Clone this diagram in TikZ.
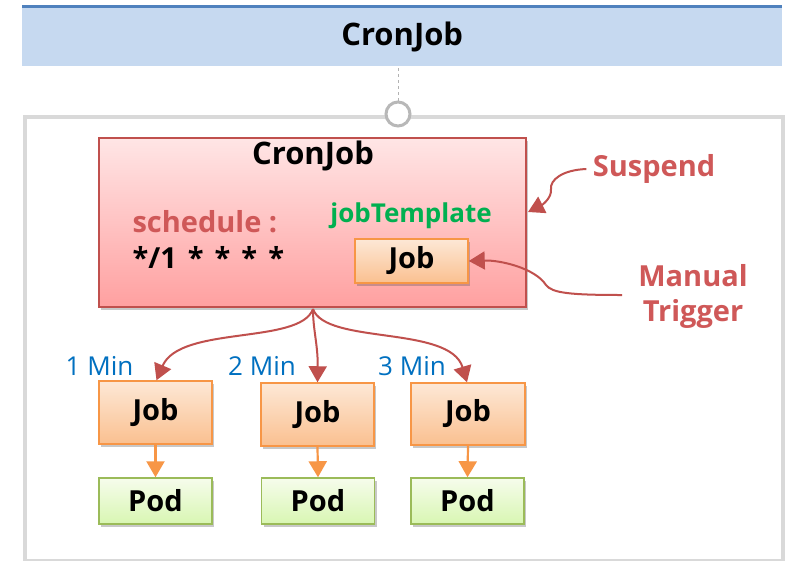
\documentclass[tikz,border=0pt]{standalone}
\usepackage{fontspec}
\setmainfont{Open Sans}
\usetikzlibrary{shadows,arrows.meta,calc}
\definecolor{hdrline}{HTML}{4F81BD}
\definecolor{hdrfill}{HTML}{C6D9F0}
\definecolor{redln}{HTML}{C0504D}
\definecolor{redtxt}{HTML}{CF5858}
\definecolor{orln}{HTML}{F79646}
\definecolor{grln}{HTML}{9BBB59}
\definecolor{bluetxt}{HTML}{0070C0}
\definecolor{greentxt}{HTML}{00B050}
\definecolor{outerln}{HTML}{D9D9D9}
\newcommand{\stsp}{\hspace{11pt}}
\tikzset{
  shad/.style={drop shadow={shadow xshift=2pt,shadow yshift=-3pt,opacity=0.3,fill=black!70}},
  cronbox/.style={draw=redln,line width=1.2pt,top color=red!10,bottom color={rgb,255:red,255;green,160;blue,160},shad,minimum width=427pt,minimum height=169pt,inner sep=0pt},
  jobbox/.style={draw=orln,line width=1.5pt,top color={rgb,255:red,253;green,232;blue,214},bottom color={rgb,255:red,250;green,192;blue,144},shad,inner sep=0pt,font=\fontsize{29}{34}\selectfont\bfseries},
  podbox/.style={draw=grln,line width=1.5pt,top color={rgb,255:red,246;green,252;blue,236},bottom color={rgb,255:red,216;green,246;blue,178},shad,minimum width=113pt,minimum height=46pt,inner sep=0pt,font=\fontsize{29}{34}\selectfont\bfseries},
  redarrow/.style={draw=redln,line width=2pt,-{Triangle[width=18pt,length=16pt]}},
  orarrow/.style={draw=orln,line width=2.2pt,-{Triangle[width=18pt,length=16pt]}},
  minlbl/.style={text=bluetxt,font=\fontsize{26}{30}\selectfont},
  bigtxt/.style={font=\fontsize{31}{36}\selectfont\bfseries},
  midtxt/.style={font=\fontsize{29}{35}\selectfont\bfseries},
}
\begin{document}
\begin{tikzpicture}[x=1pt,y=-1pt]
\useasboundingbox (0,0) rectangle (795,560);
\fill[white] (0,0) rectangle (795,560);
% header
\node[fill=hdrfill,minimum width=760pt,minimum height=58pt,anchor=north west,inner sep=0pt,bigtxt] (hdr) at (22,8) {CronJob};
\draw[hdrline,line width=3pt] ([yshift=1.5pt]hdr.north west) -- ([yshift=1.5pt]hdr.north east);
% outer frame
\node[draw=outerln,line width=4pt,minimum width=758pt,minimum height=444pt,anchor=north west,inner sep=0pt] (outer) at (23,115) {};
\node[draw=outerln!85!black,line width=3pt,fill=white,circle,minimum size=24pt,inner sep=0pt] (conn) at (398,114) {};
\draw[gray!60,dashed,line width=0.8pt] (conn.north) -- (conn.north |- hdr.south);
% cronjob box
\node[cronbox] (cron) at (312.5,222.5) {};
\node[bigtxt] (crontitle) at (313,156) {CronJob};
\node[text=redtxt,midtxt,anchor=west] (sched) at (129,222) {schedule :};
\node[midtxt,anchor=west] (expr) at (129,257) {*/1\stsp*\stsp*\stsp*\stsp*};
\node[text=greentxt,font=\fontsize{26}{30}\selectfont\bfseries] (tmpl) at (411,216) {jobTemplate};
\node[jobbox,minimum width=113pt,minimum height=44pt] (jobt) at (411.5,261) {Job};
% suspend / manual trigger
\node[text=redtxt,midtxt] (susp) at (654,169) {Suspend};
\node[text=redtxt,midtxt,align=center] (manual) at (693,296) {Manual\\Trigger};
\coordinate (suspend tip) at (528,212);
\draw[redarrow] ([xshift=-3pt]susp.west) .. controls (562,170) and (550,180) .. (551,189) .. controls (552,198) and (542,205) .. (suspend tip);
\draw[redarrow] (622,295) .. controls (570,295) and (552,293) .. (546,285) .. controls (535,268) and (500,260) .. (jobt.east);
% jobs & pods
\node[jobbox,minimum width=113pt,minimum height=63pt] (job1) at (155.5,412.5) {Job};
\node[jobbox,minimum width=113pt,minimum height=63pt] (job2) at (317.5,414.5) {Job};
\node[jobbox,minimum width=114pt,minimum height=62pt] (job3) at (468,414) {Job};
\node[podbox] (pod1) at (155.5,501) {Pod};
\node[podbox] (pod2) at (318,501) {Pod};
\node[podbox] (pod3) at (467.5,501) {Pod};
\coordinate (fan) at (313,309);
\draw[redarrow] (fan) .. controls (300,345) and (180,325) .. ([xshift=1pt]job1.north);
\draw[redarrow] (fan) .. controls (313,330) and (318,345) .. (job2.north);
\draw[redarrow] (fan) .. controls (326,345) and (450,325) .. ([xshift=-1pt]job3.north);
\node[minlbl] (m1) at (99.5,366) {1 Min};
\node[minlbl] (m2) at (262,366) {2 Min};
\node[minlbl] (m3) at (412,366) {3 Min};
\draw[orarrow] (job1.south) -- (pod1.north);
\draw[orarrow] (job2.south) -- (pod2.north);
\draw[orarrow] (job3.south) -- (pod3.north);
\end{tikzpicture}
\end{document}
